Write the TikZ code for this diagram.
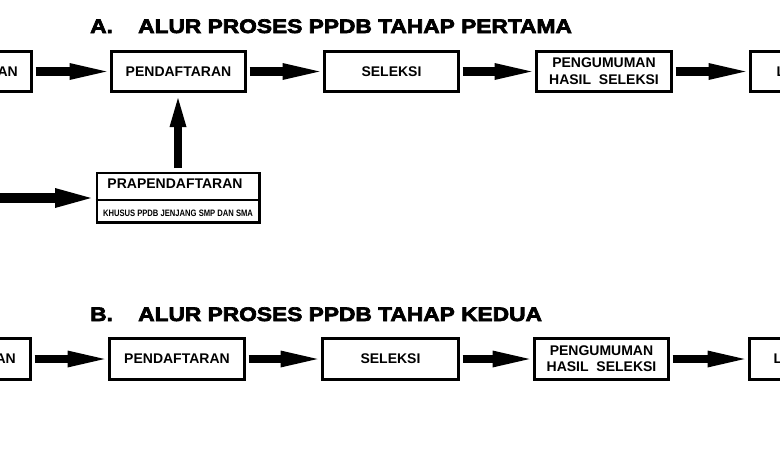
\documentclass[tikz,border=0pt]{standalone}
\usepackage{fontspec}
\setmainfont{Liberation Sans}
\newfontfamily\titlefont[FakeStretch=1.16,FakeBold=3.5]{Liberation Sans Bold}
\newfontfamily\narrowfont[FakeStretch=0.82]{Liberation Sans Bold}
\usetikzlibrary{arrows.meta}
\begin{document}
\begin{tikzpicture}[x=1pt,y=-1pt,
  box/.style={draw, line width=2.8pt, minimum height=40.2pt, inner sep=0pt,
    font=\fontsize{14}{17}\selectfont\bfseries, align=center},
  lbl/.style={inner sep=0pt, font=\fontsize{14}{17}\selectfont\bfseries},
  flow/.style={line width=8.3pt,
    -{Triangle[length=37pt 0 0,width=17pt 0 0,line width=0pt 0 0]},
    shorten <=2.5pt, shorten >=3.5pt},
  ttl/.style={inner sep=0pt, anchor=base west, font=\titlefont\fontsize{19.6}{22}\selectfont}]
\clip (0,0) rectangle (780,450);
\fill[white] (0,0) rectangle (780,450);

% titles
\node[ttl] (ta1) at (90,33) {A.};
\node[ttl] (ta2) at (138,33) {ALUR PROSES PPDB TAHAP PERTAMA};
\node[ttl] (tb1) at (90,321) {B.};
\node[ttl] (tb2) at (138,321) {ALUR PROSES PPDB TAHAP KEDUA};

% row A
\node[box, minimum width=140.2pt, anchor=east] (a0) at (33,71.5) {};
\node[lbl, anchor=east] (a0t) at (18,71.5) {AN};
\node[box, minimum width=134.2pt] (a1) at (178.5,71.5) {PENDAFTARAN};
\node[box, minimum width=134.2pt] (a2) at (391.5,71.5) {\raisebox{-3pt}{SELEKSI}};
\node[box, minimum width=135.2pt] (a3) at (604,71.5) {PENGUMUMAN\\HASIL\ \ SELEKSI};
\node[box, minimum width=140.2pt, anchor=west] (a4) at (749,71.5) {};
\node[lbl, anchor=west] (a4t) at (776.5,71.5) {L};

\draw[flow] (a0.east) -- (a1.west);
\draw[flow] (a1.east) -- (a2.west);
\draw[flow] (a2.east) -- (a3.west);
\draw[flow] (a3.east) -- (a4.west);

% prapendaftaran
\node[draw, line width=2.8pt, minimum width=162.2pt, minimum height=49.2pt, inner sep=0pt] (pra) at (178,197.5) {};
\coordinate (prdiv) at (0,200);
\draw[line width=2.8pt] (pra.west |- prdiv) -- (pra.east |- prdiv);
\node[lbl] (prt) at (175,183.5) {PRAPENDAFTARAN};
\node[inner sep=0pt, font=\narrowfont\fontsize{9.3}{11}\selectfont] (prn) at (178,213.5) {KHUSUS PPDB JENJANG SMP DAN SMA};

\draw[flow, -{Triangle[length=29pt 0 0,width=17pt 0 0,line width=0pt 0 0]},
  shorten <=3.5pt, shorten >=5pt] (pra.north) -- (pra.north |- a1.south);
\coordinate (prin) at (-10,198);
\draw[flow, line width=10pt, -{Triangle[length=36pt 0 0,width=20pt 0 0,line width=0pt 0 0]},
  shorten >=4.5pt] (prin) -- (prin -| pra.west);

% row B
\node[box, minimum width=140.2pt, minimum height=41.2pt, anchor=east] (b0) at (32,359) {};
\node[lbl, anchor=east] (b0t) at (16,359) {AN};
\node[box, minimum width=135.2pt, minimum height=41.2pt] (b1) at (177,359) {PENDAFTARAN};
\node[box, minimum width=136.2pt, minimum height=41.2pt] (b2) at (390.5,359) {\raisebox{-3pt}{SELEKSI}};
\node[box, minimum width=134.2pt, minimum height=41.2pt] (b3) at (601.5,359) {PENGUMUMAN\\[-1pt]HASIL\ \ SELEKSI};
\node[box, minimum width=140.2pt, minimum height=41.2pt, anchor=west] (b4) at (748,359) {};
\node[lbl, anchor=west] (b4t) at (773.5,359) {L};

\draw[flow] (b0.east) -- (b1.west);
\draw[flow] (b1.east) -- (b2.west);
\draw[flow] (b2.east) -- (b3.west);
\draw[flow] (b3.east) -- (b4.west);
\end{tikzpicture}
\end{document}
